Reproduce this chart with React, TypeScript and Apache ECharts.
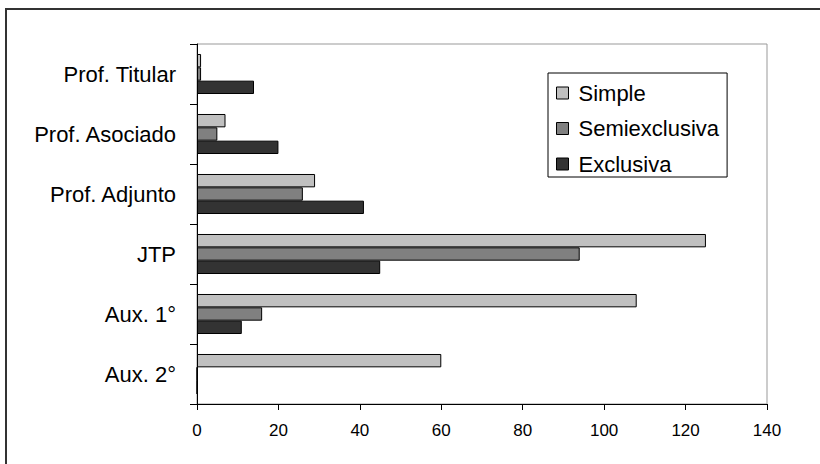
import React, { useEffect, useRef } from "react";
import * as echarts from "echarts";

const categories = ["Prof. Titular", "Prof. Asociado", "Prof. Adjunto", "JTP", "Aux. 1°", "Aux. 2°"];
const simple = [1, 7, 29, 125, 108, 60];
const semiexclusiva = [1, 5, 26, 94, 16, 0];
const exclusiva = [14, 20, 41, 45, 11, 0];
const seriesNames = ["Simple", "Semiexclusiva", "Exclusiva"];
const seriesColors = ["#C0C0C0", "#808080", "#333333"];

export default function App() {
  const ref = useRef<HTMLDivElement>(null);
  useEffect(() => {
    document.body.style.margin = "0";
    const chart = echarts.init(ref.current!, undefined, { renderer: "svg" });
    const font = "'Liberation Sans', Arial, sans-serif";
    const datas = [simple, semiexclusiva, exclusiva];
    chart.setOption({
      animation: false,
      backgroundColor: "#fff",
      textStyle: { fontFamily: font },
      grid: {
        left: 197,
        top: 44,
        right: 53,
        bottom: 60,
        show: true,
        borderColor: "#999",
        borderWidth: 1,
        containLabel: false,
      },
      legend: {
        orient: "vertical",
        left: 548,
        top: 73,
        padding: [9, 8, 2, 8],
        borderColor: "#000",
        borderWidth: 1,
        itemGap: 13.5,
        itemWidth: 12,
        itemHeight: 12,
        icon: "rect",
        itemStyle: { borderColor: "#000", borderWidth: 1 },
        textStyle: { fontSize: 22, color: "#000", fontFamily: font, lineHeight: 22, padding: [0, 0, 0, 5] },
        data: seriesNames,
      },
      xAxis: {
        type: "value",
        min: 0,
        max: 140,
        interval: 20,
        axisLine: { show: true, lineStyle: { color: "#000", width: 1 } },
        axisTick: { show: true, length: 6, lineStyle: { color: "#000" } },
        axisLabel: { fontSize: 17, color: "#000", margin: 18, fontFamily: font },
        splitLine: { show: false },
      },
      yAxis: {
        type: "category",
        inverse: true,
        data: categories,
        axisLine: { show: true, lineStyle: { color: "#000", width: 1 } },
        axisTick: { show: true, length: 7, lineStyle: { color: "#000" } },
        axisLabel: { fontSize: 22, color: "#000", margin: 21, fontFamily: font },
        splitLine: { show: false },
      },
      graphic: [
        {
          type: "polyline",
          shape: { points: [[6, 470], [6, 9], [830, 9]] },
          style: { stroke: "#333", lineWidth: 2, fill: null },
          z: 100,
        },
      ],
      series: seriesNames.map((name, i) => ({
        name,
        type: "bar",
        data: datas[i],
        barGap: "0%",
        barCategoryGap: "33.3%",
        itemStyle: { color: seriesColors[i], borderColor: "#000", borderWidth: 1 },
      })),
    });
    return () => chart.dispose();
  }, []);
  return <div ref={ref} style={{ width: 820, height: 464, position: "absolute", left: 0, top: 0 }} />;
}
